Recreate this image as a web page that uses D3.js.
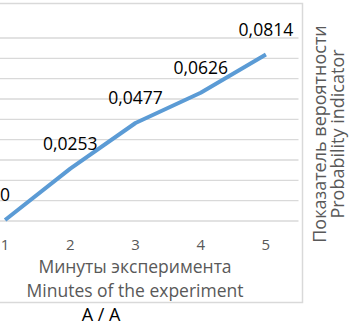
<!DOCTYPE html>
<html>
<head>
<meta charset="utf-8">
<script src="https://cdn.jsdelivr.net/npm/d3@7"></script>
<style>
  body { margin: 0; background: #fff; }
  svg { display: block; font-family: 'Open Sans', sans-serif; }
</style>
</head>
<body>
<div id="chart"></div>
<script>
const width = 356
const height = 328
const minutes = [1, 2, 3, 4, 5]
const probability = [0, 0.0253, 0.0477, 0.0626, 0.0814]
const valueLabels = ['0', '0,0253', '0,0477', '0,0626', '0,0814']
const yTicks = [0, 0.01, 0.02, 0.03, 0.04, 0.05, 0.06, 0.07, 0.08, 0.09]
const xTitle = ['Минуты эксперимента', 'Minutes of the experiment']
const yTitle = ['Показатель вероятности', 'Probability indicator']
const caption = 'A / A'

const gridColor = '#d9d9d9'
const textColor = '#595959'
const lineColor = '#5b9bd5'

let svg = d3.select('#chart').append('svg')
  .attr('width', width)
  .attr('height', height)

// plot area is cropped on the left, like the picture
let xScale = d3.scaleBand()
  .domain(minutes)
  .range([-27.5, 298.5])
let xPos = d => xScale(d) + xScale.bandwidth() / 2
let yScale = d3.scaleLinear()
  .domain([0, 0.09])
  .range([220, 37])

// outer frame of the chart
svg.append('path')
  .attr('d', 'M0,3.5H302.5V302.5H0')
  .style('fill', 'none')
  .style('stroke', gridColor)
  .style('stroke-width', 1.5)

// gridlines
svg.append('g')
  .attr('transform', 'translate(298.5,0.5)')
  .call(d3.axisLeft(yScale).tickValues(yTicks).tickSize(326).tickFormat(''))
  .call(g => g.select('.domain').remove())
  .call(g => g.selectAll('line').style('stroke', gridColor).style('stroke-width', 1.3))

// x axis labels
svg.append('g')
  .attr('transform', 'translate(0,244.5)')
  .call(d3.axisBottom(xScale).tickSize(0).tickPadding(0))
  .call(g => g.select('.domain').remove())
  .call(g => g.selectAll('text')
    .attr('y', 0)
    .attr('dy', '0.35em')
    .style('font-family', "'Open Sans', sans-serif")
    .style('font-size', '15px')
    .style('fill', textColor))

// the line
let line = d3.line()
  .x((d, i) => xPos(minutes[i]))
  .y(d => yScale(d))
svg.append('path')
  .datum(probability)
  .style('fill', 'none')
  .style('stroke', lineColor)
  .style('stroke-width', 4)
  .style('stroke-linejoin', 'round')
  .attr('d', line)

// data labels
svg.selectAll('.dataLabel')
  .data(probability)
  .enter()
  .append('text')
  .classed('dataLabel', true)
  .attr('x', (d, i) => xPos(minutes[i]))
  .attr('y', d => yScale(d) - 25)
  .attr('dy', '0.35em')
  .attr('text-anchor', 'middle')
  .style('font-size', '17.5px')
  .style('fill', '#000')
  .text((d, i) => valueLabels[i])

// x axis title
svg.selectAll('.xTitle')
  .data(xTitle)
  .enter()
  .append('text')
  .classed('xTitle', true)
  .attr('x', 135)
  .attr('y', (d, i) => 266.5 + i * 24.5)
  .attr('dy', '0.35em')
  .attr('text-anchor', 'middle')
  .style('font-size', '17.5px')
  .style('fill', textColor)
  .text(d => d)

// y axis title on the right
svg.selectAll('.yTitle')
  .data(yTitle)
  .enter()
  .append('text')
  .classed('yTitle', true)
  .attr('transform', (d, i) => `translate(${319.5 + i * 18},134) rotate(-90)`)
  .attr('dy', '0.35em')
  .attr('text-anchor', 'middle')
  .style('font-size', '18px')
  .style('fill', textColor)
  .text(d => d)

svg.append('text')
  .attr('x', 101)
  .attr('y', 315)
  .attr('dy', '0.35em')
  .attr('text-anchor', 'middle')
  .style('font-size', '18px')
  .style('fill', '#000')
  .text(caption)
</script>
</body>
</html>
